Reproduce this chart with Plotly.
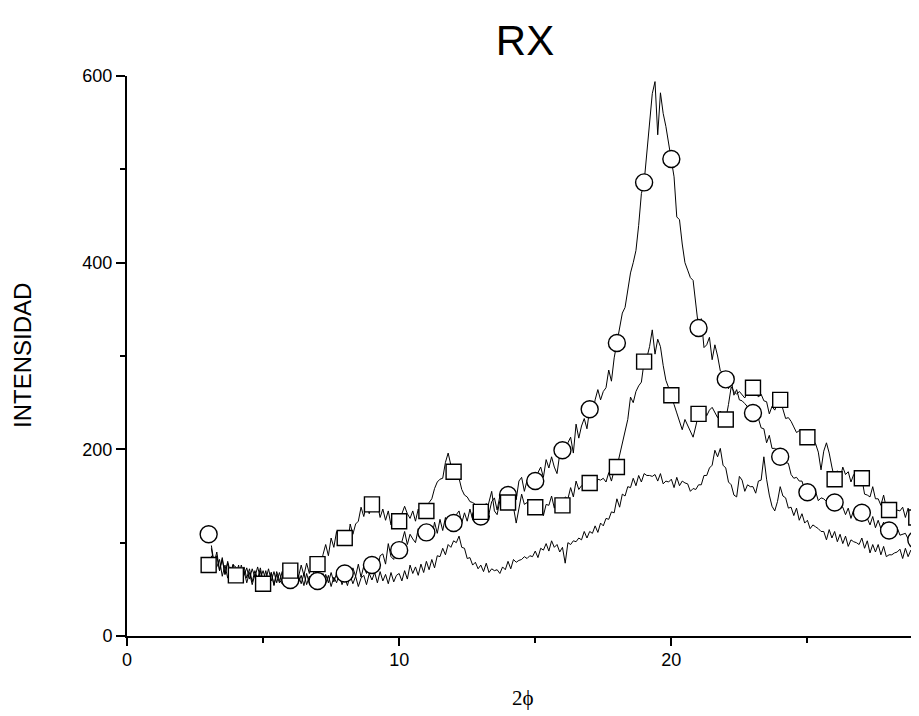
import numpy as np
import plotly.graph_objects as go

# ---- data ----
x_start = 3.1
x_step = 0.1

# trace with circle markers (highest peak)
series_a = [
    97, 78, 90, 70, 84, 66, 80, 68, 77,                      # 3.1-3.9
    64, 76, 60, 74, 62, 72, 58, 70, 61, 73,                  # 4
    58, 70, 56, 68, 55, 69, 60, 56, 68, 58,                  # 5
    56, 66, 54, 65, 56, 67, 55, 64, 53, 65,                  # 6
    55, 64, 54, 66, 57, 68, 58, 67, 60, 71,                  # 7
    63, 74, 62, 73, 64, 77, 63, 75, 67, 79,                  # 8
    72, 83, 71, 86, 88, 77, 99, 85, 82, 96,                  # 9
    88, 101, 112, 98, 109, 104, 100, 115, 104, 117,          # 10
    107, 119, 105, 122, 110, 125, 113, 127, 116, 126,        # 11
    118, 130, 134, 121, 132, 123, 136, 125, 134, 138,        # 12
    127, 139, 142, 131, 144, 148, 135, 150, 152, 141,        # 13
    148, 144, 158, 146, 166, 170, 155, 167, 173, 158,        # 14
    163, 175, 181, 170, 189, 180, 192, 181, 174, 195,        # 15
    196, 192, 207, 213, 196, 227, 212, 225, 233, 222,        # 16
    243, 236, 253, 264, 253, 262, 266, 285, 273, 298,        # 17
    314, 328, 346, 352, 370, 389, 400, 413, 440, 474,        # 18
    486, 520, 546, 581, 594, 537, 582, 560, 546, 528,        # 19
    511, 492, 449, 446, 420, 400, 392, 384, 381, 357,        # 20
    330, 340, 309, 312, 320, 296, 312, 300, 284, 282,        # 21
    275, 265, 274, 258, 264, 253, 252, 249, 246, 243,        # 22
    239, 234, 233, 223, 222, 207, 215, 201, 201, 199,        # 23
    192, 198, 186, 185, 173, 169, 170, 166, 166, 156,        # 24
    154, 162, 150, 155, 145, 148, 147, 144, 143, 142,        # 25
    143, 136, 137, 138, 130, 137, 126, 135, 124, 132,        # 26
    132, 125, 126, 119, 128, 116, 124, 115, 122, 113,        # 27
    113, 119, 108, 116, 108, 109, 110, 104, 110, 102,        # 28
    104, 106,                                                # 29
]

# trace with square markers
series_b = [
    86, 72, 74, 82, 64, 76, 62, 74, 60,                      # 3.1-3.9
    66, 72, 58, 70, 57, 68, 55, 66, 58, 70,                  # 4
    54, 64, 56, 68, 54, 66, 57, 69, 59, 71,                  # 5
    72, 61, 74, 63, 76, 65, 78, 67, 75, 64,                  # 6
    78, 71, 87, 98, 86, 105, 95, 112, 101, 108,              # 7
    103, 97, 120, 109, 120, 123, 138, 128, 141, 131,         # 8
    141, 133, 142, 127, 136, 124, 134, 119, 131, 123,        # 9
    123, 132, 139, 131, 126, 134, 123, 136, 126, 141,        # 10
    134, 143, 147, 158, 165, 168, 169, 186, 196, 183,        # 11
    176, 170, 169, 157, 151, 149, 144, 143, 141, 138,        # 12
    133, 141, 132, 144, 155, 134, 130, 145, 149, 136,        # 13
    143, 137, 138, 121, 135, 152, 141, 143, 134, 138,        # 14
    138, 131, 144, 129, 141, 140, 150, 137, 148, 138,        # 15
    140, 149, 147, 159, 149, 166, 157, 161, 161, 164,        # 16
    164, 170, 159, 168, 167, 169, 165, 175, 166, 178,        # 17
    181, 194, 207, 218, 232, 256, 250, 262, 268, 272,        # 18
    294, 298, 310, 328, 302, 318, 310, 290, 274, 266,        # 19
    258, 248, 239, 230, 221, 232, 226, 219, 213, 225,        # 20
    238, 230, 244, 236, 242, 245, 239, 234, 241, 237,        # 21
    232, 248, 267, 262, 259, 262, 258, 255, 262, 259,        # 22
    266, 263, 256, 259, 252, 251, 238, 246, 242, 249,        # 23
    253, 242, 233, 234, 230, 224, 218, 220, 221, 212,        # 24
    213, 207, 210, 206, 197, 178, 198, 207, 196, 181,        # 25
    168, 177, 168, 181, 173, 176, 165, 173, 171, 174,        # 26
    169, 152, 151, 149, 160, 147, 147, 140, 151, 137,        # 27
    135, 141, 130, 135, 134, 138, 127, 137, 126, 129,        # 28
    127, 122,                                                # 29
]

# lowest trace, no markers
series_c = [
    94, 76, 86, 70, 82, 66, 78, 67, 76,                      # 3.1-3.9
    74, 63, 76, 65, 73, 61, 72, 63, 74, 62,                  # 4
    70, 60, 72, 59, 69, 57, 68, 58, 67, 56,                  # 5
    66, 55, 68, 57, 65, 54, 67, 56, 64, 57,                  # 6
    64, 55, 67, 56, 65, 53, 63, 57, 66, 55,                  # 7
    63, 54, 65, 56, 64, 53, 62, 65, 55, 67,                  # 8
    60, 68, 57, 69, 59, 66, 56, 68, 58, 65,                  # 9
    67, 59, 70, 61, 76, 67, 74, 65, 77, 68,                  # 10
    80, 71, 82, 73, 86, 85, 94, 87, 98, 95,                  # 11
    102, 100, 107, 95, 94, 83, 84, 76, 79, 72,               # 12
    76, 69, 78, 68, 72, 70, 71, 67, 74, 71,                  # 13
    80, 72, 82, 79, 81, 82, 85, 83, 86, 85,                  # 14
    91, 84, 94, 92, 99, 91, 102, 95, 98, 90,                 # 15
    95, 78, 100, 98, 102, 101, 105, 103, 112, 105,           # 16
    112, 110, 118, 111, 121, 118, 126, 125, 133, 132,        # 17
    147, 138, 152, 150, 160, 159, 169, 161, 172, 165,        # 18
    174, 172, 172, 171, 173, 166, 174, 163, 166, 165,        # 19
    168, 159, 170, 161, 166, 164, 163, 155, 158, 157,        # 20
    162, 162, 172, 172, 180, 183, 199, 192, 201, 183,        # 21
    180, 165, 162, 151, 149, 171, 167, 155, 162, 160,        # 22
    160, 153, 166, 167, 192, 168, 151, 139, 134, 144,        # 23
    160, 150, 148, 137, 138, 129, 137, 124, 131, 121,        # 24
    124, 115, 119, 117, 115, 112, 112, 103, 114, 105,        # 25
    112, 101, 109, 99, 107, 96, 103, 101, 100, 98,           # 26
    105, 94, 102, 89, 98, 90, 98, 87, 96, 85,                # 27
    87, 87, 89, 90, 93, 83, 94, 85, 92, 86,                  # 28
    90, 88,                                                  # 29
]

circle_x = [3, 6, 7, 8, 9, 10, 11, 12, 13, 14, 15, 16, 17, 18, 19, 20, 21, 22, 23, 24, 25, 26, 27, 28, 29]
circle_y = [109, 60, 59, 67, 76, 92, 111, 121, 128, 151, 166, 199, 243, 314, 486, 511, 330, 275, 239, 192, 154, 143, 132, 113, 103]

square_x = [3, 4, 5, 6, 7, 8, 9, 10, 11, 12, 13, 14, 15, 16, 17, 18, 19, 20, 21, 22, 23, 24, 25, 26, 27, 28, 29]
square_y = [76, 65, 56, 70, 77, 105, 141, 123, 134, 176, 133, 143, 138, 140, 164, 181, 294, 258, 238, 232, 266, 253, 213, 168, 169, 135, 127]

x_ticks = [0, 10, 20]
x_minor = [5, 15, 25]
y_ticks = [0, 200, 400, 600]
y_minor = [100, 300, 500]


def grid(values):
    return np.round(x_start + x_step * np.arange(len(values)), 2)


fig = go.Figure()
line_style = dict(color="black", width=1)
for s in (series_c, series_b, series_a):
    fig.add_trace(go.Scatter(x=grid(s), y=s, mode="lines", line=line_style,
                             showlegend=False, hoverinfo="skip"))

fig.add_trace(go.Scatter(x=circle_x, y=circle_y, mode="markers", showlegend=False,
                         marker=dict(symbol="circle", size=17, color="white",
                                     line=dict(color="black", width=1.4))))
fig.add_trace(go.Scatter(x=square_x, y=square_y, mode="markers", showlegend=False,
                         marker=dict(symbol="square", size=15, color="white",
                                     line=dict(color="black", width=1.4))))

sans = "Arial, Liberation Sans, sans-serif"

# page has an 8px body margin: figure is placed at (8, 8)
W, H = 911, 708
L, R, T, B = 119, 0, 68, 80
plot_w, plot_h = W - L - R, H - T - B

fig.update_layout(
    width=W, height=H,
    margin=dict(l=L, r=R, t=T, b=B, autoexpand=False),
    paper_bgcolor="white", plot_bgcolor="white",
    title=dict(text="RX", x=517 / W, xref="container", xanchor="center",
               y=1 - 32 / H, yref="container", yanchor="middle",
               font=dict(family=sans, size=42, color="black")),
    xaxis=dict(range=[0, 29.1], tickvals=x_ticks, ticks="outside", ticklen=8, tickwidth=1.5,
               tickcolor="black", showline=True, linecolor="black", linewidth=2,
               showgrid=False, zeroline=False, automargin=False,
               tickfont=dict(family=sans, size=18, color="black"), ticklabelstandoff=-2,
               minor=dict(tickvals=x_minor, ticks="outside", ticklen=5, tickwidth=1.5,
                          tickcolor="black", showgrid=False)),
    yaxis=dict(range=[0, 600], tickvals=y_ticks, ticks="outside", ticklen=9, tickwidth=1.5,
               tickcolor="black", showline=True, linecolor="black", linewidth=2,
               showgrid=False, zeroline=False, automargin=False,
               tickfont=dict(family=sans, size=18, color="black"),
               minor=dict(tickvals=y_minor, ticks="outside", ticklen=5, tickwidth=1.5,
                          tickcolor="black", showgrid=False)),
    annotations=[
        dict(text="2ϕ", xref="paper", yref="paper", x=0.5, y=-62 / plot_h,
             xanchor="center", yanchor="middle", showarrow=False,
             font=dict(family="Times New Roman, Liberation Serif, serif", size=21, color="black")),
        dict(text="INTENSIDAD", xref="paper", yref="paper", x=-105 / plot_w, y=0.5,
             xanchor="center", yanchor="middle", textangle=-90, showarrow=False,
             font=dict(family=sans, size=24, color="black")),
    ],
)

fig.write_html("out.html")
